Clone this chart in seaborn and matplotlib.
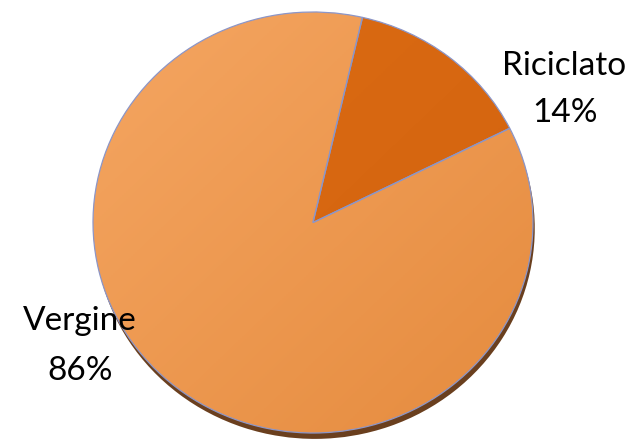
import numpy as np
import matplotlib
matplotlib.use("Agg")
import matplotlib.pyplot as plt
import seaborn as sns

categories = ["Riciclato", "Vergine"]
values = [14, 86]
pct_labels = ["14%", "86%"]

sns.set_theme(style="white")
plt.rcParams['font.family'] = ['Lato', 'DejaVu Sans']

W, H = 635, 441
fig = plt.figure(figsize=(W / 100, H / 100), dpi=100)

# pie axes positioned at ellipse bounding box (pixels)
left, right, top, bottom = 93, 533, 12, 433
ax = fig.add_axes([left / W, 1 - bottom / H, (right - left) / W, (bottom - top) / H])
ax.axis("off")

colors = ["#D9690F", "#F09A50"]
edge = "#8C96C8"

# shadow
sh, _ = ax.pie(values, startangle=77, counterclock=False, radius=1,
               center=(0.008, -0.028), colors=["#6A3F1E", "#6A3F1E"],
               wedgeprops=dict(linewidth=0))
for w in sh:
    w.set_clip_on(False)
    w.set_zorder(1)

wedges, _ = ax.pie(values, startangle=77, counterclock=False, radius=1,
                   colors=colors,
                   wedgeprops=dict(edgecolor=edge, linewidth=0.9))
for w in wedges:
    w.set_clip_on(False)

ax.set_xlim(-1, 1)
ax.set_ylim(-1, 1)
ax.set_aspect("auto")

# gradient fills
n = 200
xx, yy = np.meshgrid(np.linspace(-1, 1, n), np.linspace(1, -1, n))
t = (xx - yy + 2) / 4.0  # 0 top-left .. 1 bottom-right
c0 = np.array([245, 166, 98]) / 255
c1 = np.array([229, 139, 62]) / 255
img = c0[None, None, :] * (1 - t[..., None]) + c1[None, None, :] * t[..., None]
im = ax.imshow(img, extent=(-1, 1, -1, 1), zorder=2.5, aspect="auto")
im.set_clip_path(wedges[1])

c0r = np.array([220, 108, 20]) / 255
c1r = np.array([210, 98, 14]) / 255
imgr = c0r[None, None, :] * (1 - t[..., None]) + c1r[None, None, :] * t[..., None]
imr = ax.imshow(imgr, extent=(-1, 1, -1, 1), zorder=2.5, aspect="auto")
imr.set_clip_path(wedges[0])

for w in wedges:
    w.set_facecolor("none")
    w.set_zorder(4)

ax.set_xlim(-1, 1)
ax.set_ylim(-1, 1)

fs = 24
def put(x, y, s):
    fig.text(x / W, 1 - y / H, s, ha="center", va="baseline", fontsize=fs,
             color="black", zorder=10)

put(564, 75, categories[0])
put(565, 122, pct_labels[0])
put(80, 330, categories[1])
put(80, 380, pct_labels[1])

fig.savefig("out.png", dpi=100)
